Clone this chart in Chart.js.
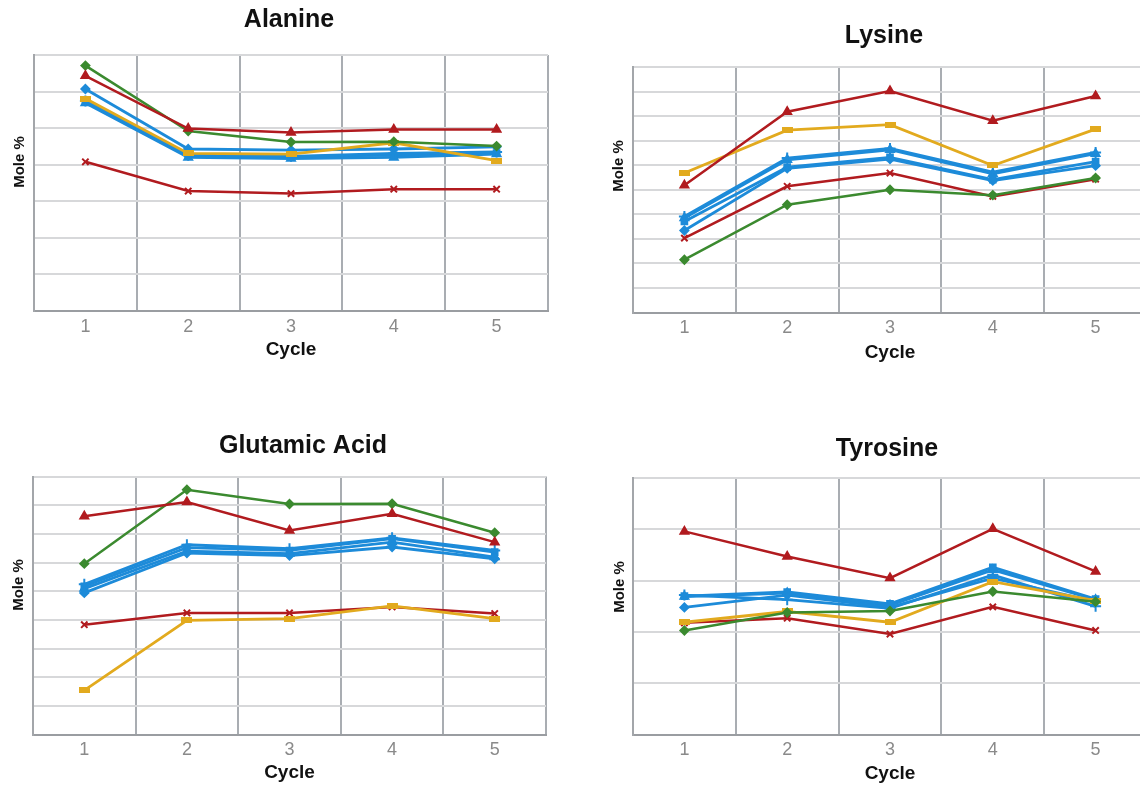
<!DOCTYPE html>
<html><head><meta charset="utf-8">
<script src="https://cdn.jsdelivr.net/npm/chart.js@4.4.1/dist/chart.umd.min.js"></script>
<style>
html,body{margin:0;padding:0;background:#fff;overflow:hidden;width:1140px;height:786px;position:relative}
.panel{position:absolute}
</style></head>
<body>
<div class="panel" style="left:0;top:0;width:570px;height:393px"><canvas id="c0"></canvas></div>
<div class="panel" style="left:570px;top:0;width:590px;height:393px"><canvas id="c1"></canvas></div>
<div class="panel" style="left:0;top:393px;width:570px;height:393px"><canvas id="c2"></canvas></div>
<div class="panel" style="left:570px;top:393px;width:590px;height:393px"><canvas id="c3"></canvas></div>
<script>
// ---- data (grid units, no axis values shown in the original) ----
const cycles = ['1','2','3','4','5'];
const titles = ['Alanine','Lysine','Glutamic Acid','Tyrosine'];
const yMax = [7, 10, 9, 5];

const alaRedTri   = [6.43, 4.99, 4.88, 4.96, 4.96];
const alaGreen    = [6.71, 4.92, 4.62, 4.63, 4.51];
const alaYellow   = [5.81, 4.31, 4.29, 4.60, 4.11];
const alaRedX     = [4.08, 3.28, 3.21, 3.33, 3.33];
const alaBlueDia  = [6.07, 4.43, 4.40, 4.43, 4.49];
const alaBluePlus = [5.74, 4.26, 4.23, 4.31, 4.35];
const alaBlueTri  = [5.69, 4.20, 4.17, 4.20, 4.29];
const alaBlueSq   = [5.77, 4.25, 4.22, 4.26, 4.32];

const lysRedTri   = [5.18, 8.18, 9.02, 7.81, 8.82];
const lysGreen    = [2.15, 4.39, 5.00, 4.78, 5.48];
const lysYellow   = [5.68, 7.43, 7.65, 5.99, 7.47];
const lysRedX     = [3.03, 5.14, 5.68, 4.73, 5.43];
const lysBlueDia  = [3.34, 5.87, 6.25, 5.37, 5.98];
const lysBluePlus = [3.91, 6.29, 6.68, 5.72, 6.52];
const lysBlueTri  = [3.85, 6.22, 6.63, 5.65, 6.47];
const lysBlueSq   = [3.71, 5.92, 6.32, 5.41, 6.15];

const gluRedTri   = [7.61, 8.11, 7.12, 7.70, 6.71];
const gluGreen    = [5.96, 8.54, 8.04, 8.05, 7.04];
const gluYellow   = [1.54, 3.98, 4.04, 4.49, 4.04];
const gluRedX     = [3.83, 4.24, 4.24, 4.45, 4.22];
const gluBlueDia  = [4.94, 6.33, 6.24, 6.54, 6.13];
const gluBluePlus = [5.24, 6.62, 6.48, 6.86, 6.42];
const gluBlueTri  = [5.09, 6.40, 6.31, 6.71, 6.19];
const gluBlueSq   = [5.17, 6.52, 6.42, 6.83, 6.36];

const tyrRedTri   = [3.96, 3.47, 3.05, 4.01, 3.18];
const tyrGreen    = [2.03, 2.38, 2.41, 2.79, 2.59];
const tyrYellow   = [2.19, 2.40, 2.19, 2.98, 2.61];
const tyrRedX     = [2.18, 2.27, 1.96, 2.49, 2.03];
const tyrBlueDia  = [2.48, 2.72, 2.48, 3.05, 2.59];
const tyrBluePlus = [2.72, 2.63, 2.46, 3.11, 2.50];
const tyrBlueTri  = [2.69, 2.76, 2.52, 3.21, 2.63];
const tyrBlueSq   = [2.70, 2.78, 2.55, 3.26, 2.64];

const panelSeries = [
  [alaRedTri, alaGreen, alaYellow, alaRedX, alaBlueDia, alaBluePlus, alaBlueTri, alaBlueSq],
  [lysRedTri, lysGreen, lysYellow, lysRedX, lysBlueDia, lysBluePlus, lysBlueTri, lysBlueSq],
  [gluRedTri, gluGreen, gluYellow, gluRedX, gluBlueDia, gluBluePlus, gluBlueTri, gluBlueSq],
  [tyrRedTri, tyrGreen, tyrYellow, tyrRedX, tyrBlueDia, tyrBluePlus, tyrBlueTri, tyrBlueSq]
];

// ---- styles ----
const RED = '#b11b1f', GREEN = '#3b8a2f', YELLOW = '#e2aa1e', BLUE = '#1d8bd9';
function dashMarker(color){
  const c = document.createElement('canvas'); c.width = 11; c.height = 6;
  const x = c.getContext('2d'); x.fillStyle = color; x.fillRect(0,0,11,6); return c;
}
const seriesStyles = [
  {color: RED,    ps: 'triangle', r: 4.5, bw: 2.5},
  {color: GREEN,  ps: 'rectRot',  r: 4,   bw: 2.5},
  {color: YELLOW, ps: dashMarker(YELLOW), r: 5, bw: 2.8},
  {color: RED,    ps: 'crossRot', r: 4.5, bw: 2.5},
  {color: BLUE,   ps: 'rectRot',  r: 4,   bw: 2.8},
  {color: BLUE,   ps: 'cross',    r: 5.5, bw: 2.8},
  {color: BLUE,   ps: 'triangle', r: 4.5, bw: 2.8},
  {color: BLUE,   ps: 'rect',     r: 4,   bw: 2.8}
];

// layout of each panel (panel-relative pixels)
const layouts = [
  {padTop: 55,   padRight: 22, leftW: 34, bottomH: 82,   titleX: 289, titleY: 20, yX: 19.5, yY: 162, cyclePad: 32},
  {padTop: 67,   padRight: 13, leftW: 63, bottomH: 80.5, titleX: 884, titleY: 36, yX: 49,   yY: 166, cyclePad: 29},
  {padTop: 83.5, padRight: 24, leftW: 33, bottomH: 51.5, titleX: 303, titleY: 53, yX: 19,   yY: 192, cyclePad: 2},
  {padTop: 85,   padRight: 13, leftW: 63, bottomH: 51.3, titleX: 887, titleY: 56, yX: 49.5, yY: 194, cyclePad: 0.5}
];
const panelLeft = [0, 570, 0, 570];

const FONT = '"Liberation Sans", Arial, Helvetica, sans-serif';

const panelText = {
  id: 'panelText',
  afterDraw(chart, args, o){
    const ctx = chart.ctx;
    ctx.save();
    ctx.fillStyle = '#111';
    ctx.textAlign = 'center';
    ctx.textBaseline = 'middle';
    ctx.font = 'bold 25px ' + FONT;
    ctx.fillText(o.title, o.titleX, o.titleY);
    ctx.translate(o.yX, o.yY);
    ctx.rotate(-Math.PI/2);
    ctx.font = 'bold 15px ' + FONT;
    ctx.fillText('Mole %', 0, 0);
    ctx.restore();
  }
};

panelSeries.forEach((series, i) => {
  const L = layouts[i];
  const datasets = series.map((vals, k) => {
    const s = seriesStyles[k];
    return {
      data: vals,
      borderColor: s.color,
      backgroundColor: s.color,
      borderWidth: s.bw,
      pointStyle: s.ps,
      pointRadius: s.r,
      pointBorderWidth: 2,
      pointBorderColor: s.color,
      pointBackgroundColor: s.color,
      tension: 0,
      fill: false
    };
  });
  new Chart(document.getElementById('c' + i), {
    type: 'line',
    data: { labels: cycles, datasets },
    plugins: [panelText],
    options: {
      responsive: true,
      maintainAspectRatio: false,
      animation: false,
      layout: { padding: { top: L.padTop, right: L.padRight, left: 0, bottom: 0 } },
      plugins: {
        legend: { display: false },
        tooltip: { enabled: false },
        title: { display: false },
        panelText: { title: titles[i], titleX: L.titleX - panelLeft[i], titleY: L.titleY, yX: L.yX, yY: L.yY }
      },
      scales: {
        x: {
          type: 'category',
          offset: true,
          afterFit: s => { s.height = L.bottomH; },
          grid: { offset: true, color: '#a9adb2', lineWidth: 2, drawTicks: false },
          border: { display: true, color: '#9a9da1', width: 2 },
          ticks: { color: '#8a8a8a', padding: 5, font: { family: FONT, size: 18 } },
          title: { display: true, text: 'Cycle', color: '#111', padding: { top: 0, bottom: L.cyclePad },
                   font: { family: FONT, size: 19, weight: 'bold' } }
        },
        y: {
          min: 0, max: yMax[i],
          afterFit: s => { s.width = L.leftW; },
          ticks: { display: false, stepSize: 1 },
          grid: { color: '#d7d8da', lineWidth: 2, drawTicks: false },
          border: { display: true, color: '#a3a6aa', width: 2 }
        }
      }
    }
  });
});
</script>
</body></html>
